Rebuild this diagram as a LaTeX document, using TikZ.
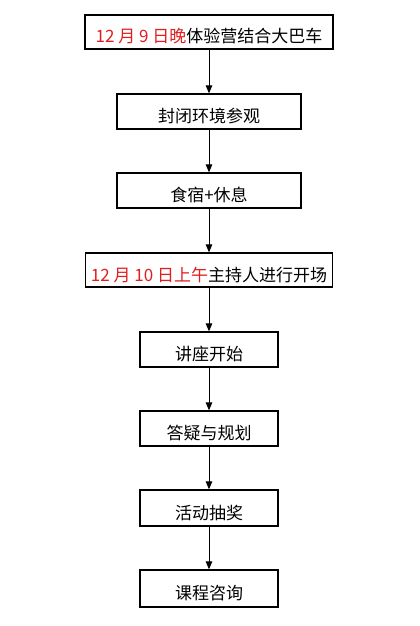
\documentclass[tikz,border=0pt]{standalone}
\usepackage{fontspec}
\setmainfont{Noto Sans CJK SC}
\usetikzlibrary{arrows.meta}
\definecolor{datered}{RGB}{225,30,30}
\begin{document}
\begin{tikzpicture}[x=1pt,y=-1pt,
  box/.style={draw=black,line width=1.3pt,fill=white,inner sep=0pt,text height=22pt,text depth=0pt,font=\fontsize{17}{20}\selectfont},
  arr/.style={line width=1pt,-{Triangle[width=6.5pt,length=8pt]}}]
\useasboundingbox (0,0) rectangle (420,626);
\node[box,minimum width=248pt,minimum height=34pt] (b1) at (209,32) {\textcolor{datered}{12 月 9 日晚}体验营结合大巴车};
\node[box,minimum width=184pt,minimum height=35pt] (b2) at (209,111.5) {封闭环境参观};
\node[box,minimum width=184pt,minimum height=35pt] (b3) at (209,190.5) {食宿+休息};
\node[box,minimum width=247pt,minimum height=34pt] (b4) at (209,270) {\textcolor{datered}{12 月 10 日上午}主持人进行开场};
\node[box,minimum width=138pt,minimum height=35pt] (b5) at (209,349.5) {讲座开始};
\node[box,minimum width=138pt,minimum height=35pt] (b6) at (209,428.5) {答疑与规划};
\node[box,minimum width=138pt,minimum height=36pt] (b7) at (209,508) {活动抽奖};
\node[box,minimum width=138pt,minimum height=37pt] (b8) at (209,588.5) {课程咨询};
\draw[arr] (b1.south) -- (b2.north);
\draw[arr] (b2.south) -- (b3.north);
\draw[arr] (b3.south) -- (b4.north);
\draw[arr] (b4.south) -- (b5.north);
\draw[arr] (b5.south) -- (b6.north);
\draw[arr] (b6.south) -- (b7.north);
\draw[arr] (b7.south) -- (b8.north);
\end{tikzpicture}
\end{document}
